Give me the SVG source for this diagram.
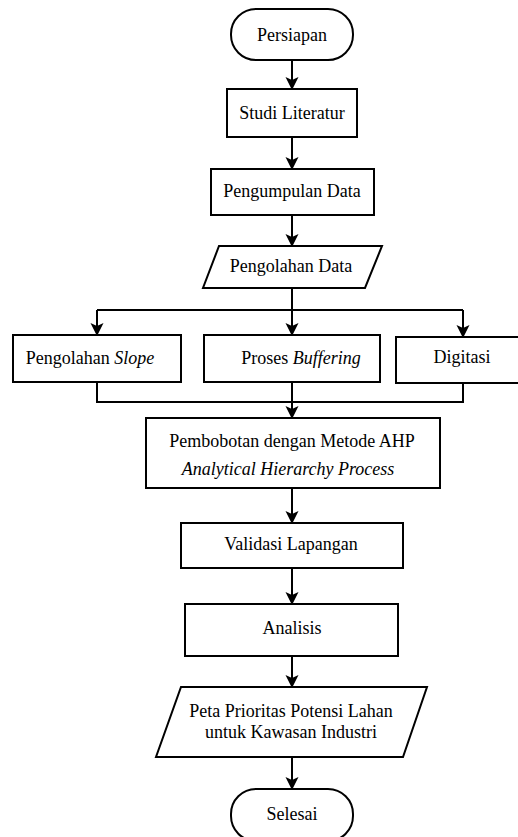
<svg xmlns="http://www.w3.org/2000/svg" width="518" height="837" viewBox="0 0 518 837">
<style>
.shape{fill:#fff;stroke:#000;stroke-width:2}
.t{font-family:"Liberation Serif","Times New Roman",serif;font-size:18px;fill:#000;text-anchor:middle}
.i{font-style:italic}
.c{fill:none;stroke:#000;stroke-width:2}
</style>
<defs>
<marker id="ah" markerUnits="userSpaceOnUse" markerWidth="14" markerHeight="14" refX="12" refY="7" orient="auto" viewBox="0 0 14 14">
<path d="M0,0.5 L13,7 L0,13.5 L3,7 Z" fill="#000"/>
</marker>
</defs>
<rect width="518" height="837" fill="#fff"/>
<g id="connectors">
<path class="c" d="M292,60 V89" marker-end="url(#ah)"/>
<path class="c" d="M292,137 V169" marker-end="url(#ah)"/>
<path class="c" d="M292,215 V246" marker-end="url(#ah)"/>
<path class="c" d="M292,288 V310 M97,310 H463"/>
<path class="c" d="M97,310 V335" marker-end="url(#ah)"/>
<path class="c" d="M292,310 V335" marker-end="url(#ah)"/>
<path class="c" d="M463,310 V337" marker-end="url(#ah)"/>
<path class="c" d="M97,382 V402 H463 V383 M292,382 V402"/>
<path class="c" d="M292,402 V418" marker-end="url(#ah)"/>
<path class="c" d="M292,488 V523" marker-end="url(#ah)"/>
<path class="c" d="M292,568 V604" marker-end="url(#ah)"/>
<path class="c" d="M292,656 V687" marker-end="url(#ah)"/>
<path class="c" d="M292,757 V789" marker-end="url(#ah)"/>
</g>
<g id="persiapan">
<rect class="shape" x="231" y="9" width="122" height="51" rx="25" ry="25"/>
<text class="t" x="292" y="41">Persiapan</text>
</g>
<g id="studi-literatur">
<rect class="shape" x="227" y="89" width="130" height="48"/>
<text class="t" x="292" y="119">Studi Literatur</text>
</g>
<g id="pengumpulan-data">
<rect class="shape" x="211" y="169" width="163" height="46"/>
<text class="t" x="292" y="197">Pengumpulan Data</text>
</g>
<g id="pengolahan-data">
<polygon class="shape" points="219,246 382,246 365,288 203,288"/>
<text class="t" x="291" y="272">Pengolahan Data</text>
</g>
<g id="pengolahan-slope">
<rect class="shape" x="13" y="335" width="168" height="47"/>
<text class="t" x="90" y="364">Pengolahan <tspan class="i">Slope</tspan></text>
</g>
<g id="proses-buffering">
<rect class="shape" x="204" y="335" width="176" height="47"/>
<text class="t" x="301" y="364">Proses <tspan class="i">Buffering</tspan></text>
</g>
<g id="digitasi">
<rect class="shape" x="396" y="337" width="134" height="46"/>
<text class="t" x="462" y="363">Digitasi</text>
</g>
<g id="ahp">
<rect class="shape" x="146" y="418" width="294" height="70"/>
<text class="t" x="292" y="447">Pembobotan dengan Metode AHP</text>
<text class="t i" x="288" y="475">Analytical Hierarchy Process</text>
</g>
<g id="validasi">
<rect class="shape" x="181" y="523" width="222" height="45"/>
<text class="t" x="291" y="550">Validasi Lapangan</text>
</g>
<g id="analisis">
<rect class="shape" x="185" y="604" width="213" height="52"/>
<text class="t" x="292" y="634">Analisis</text>
</g>
<g id="peta">
<polygon class="shape" points="181,687 427,687 403,757 156,757"/>
<text class="t" x="291" y="717">Peta Prioritas Potensi Lahan</text>
<text class="t" x="291" y="738">untuk Kawasan Industri</text>
</g>
<g id="selesai">
<rect class="shape" x="231" y="789" width="122" height="52" rx="25" ry="25"/>
<text class="t" x="292" y="820">Selesai</text>
</g>
</svg>
